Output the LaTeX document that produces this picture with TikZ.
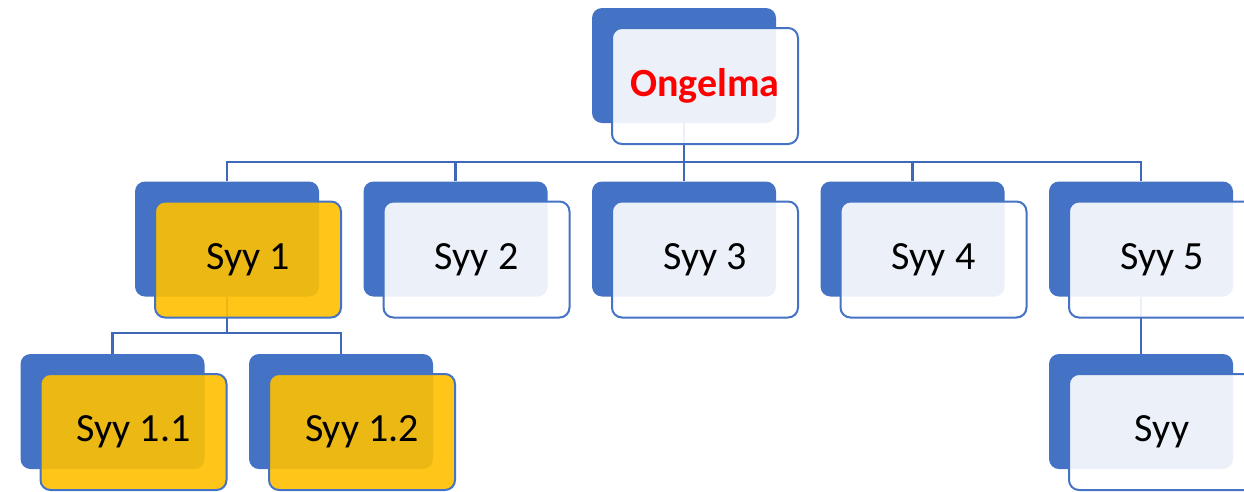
\documentclass[tikz,border=0pt]{standalone}
\usepackage{fontspec}
\setmainfont{Carlito}
\definecolor{blueA}{HTML}{4472C4}
\definecolor{lineB}{HTML}{4068B8}
\definecolor{yellowA}{HTML}{FFC000}
\pgfdeclarelayer{bg}
\pgfsetlayers{bg,main}
\begin{document}
\begin{tikzpicture}[x=1pt,y=-1pt,
  backbox/.style={fill=blueA, rounded corners=10pt, minimum width=184pt, minimum height=115pt, inner sep=0pt},
  frontbox/.style={draw=blueA, line width=2pt, fill=white, fill opacity=0.9, text opacity=1,
     rounded corners=10pt, minimum width=186pt, minimum height=116pt, inner sep=0pt,
     font=\fontsize{40}{42}\selectfont},
  yellowbox/.style={frontbox, fill=yellowA},
  conn/.style={draw=lineB, line width=2.5pt}]
\useasboundingbox (0,0) rectangle (1244,491);
% level 1
\node[backbox] (top-b) at (684,65.5) {};
\node[frontbox] (top) at (705,86) {\textcolor{red}{\textbf{Ongelma}}};
% level 2
\node[backbox] (s1-b) at (227,239) {};
\node[yellowbox] (s1) at (248,259.5) {Syy 1};
\node[backbox] (s2-b) at (455.5,239) {};
\node[frontbox] (s2) at (476.5,259.5) {Syy 2};
\node[backbox] (s3-b) at (684,239) {};
\node[frontbox] (s3) at (705,259.5) {Syy 3};
\node[backbox] (s4-b) at (912.5,239) {};
\node[frontbox] (s4) at (933.5,259.5) {Syy 4};
\node[backbox] (s5-b) at (1141,239) {};
\node[frontbox] (s5) at (1162,259.5) {Syy 5};
% level 3
\node[backbox] (s11-b) at (112.5,411.5) {};
\node[yellowbox] (s11) at (133.5,432) {Syy 1.1};
\node[backbox] (s12-b) at (341,411.5) {};
\node[yellowbox] (s12) at (362,432) {Syy 1.2};
\node[backbox] (s51-b) at (1141,411.5) {};
\node[frontbox] (s51) at (1162,432) {Syy};
% connectors
\coordinate (bus1) at (0,162);
\coordinate (bus2) at (0,333);
\begin{pgfonlayer}{bg}
\draw[conn] (top-b.south) -- (top-b.south |- bus1);
\draw[conn] (s1-b.north) -- (s1-b.north |- bus1) -- (s5-b.north |- bus1) -- (s5-b.north);
\draw[conn] (s2-b.north) -- (s2-b.north |- bus1);
\draw[conn] (s3-b.north) -- (s3-b.north |- bus1);
\draw[conn] (s4-b.north) -- (s4-b.north |- bus1);
\draw[conn] (s1-b.south) -- (s1-b.south |- bus2);
\draw[conn] (s11-b.north) -- (s11-b.north |- bus2) -- (s12-b.north |- bus2) -- (s12-b.north);
\draw[conn] (s5-b.south) -- (s51-b.north);
\end{pgfonlayer}
\end{tikzpicture}
\end{document}
